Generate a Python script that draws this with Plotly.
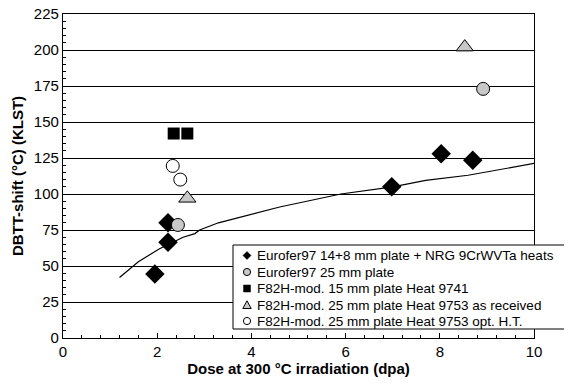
import plotly.graph_objects as go

# Data
euro_x = [1.95, 2.23, 2.23, 6.98, 8.03, 8.7]
euro_y = [44.5, 66.5, 80, 105, 128, 123.5]

euro25_x = [2.44, 8.92]
euro25_y = [78.5, 173]

f82_15_x = [2.35, 2.64]
f82_15_y = [142, 142]

f82_ar_x = [2.64, 8.53]
f82_ar_y = [97, 202]

f82_ht_x = [2.33, 2.49]
f82_ht_y = [119.5, 110]

fit_x = [1.2, 1.6, 2.05, 2.55, 2.8, 2.9, 3.3, 4.1, 4.6, 5.9, 7.0, 7.7, 8.6, 10.05]
fit_y = [42, 53, 62, 70, 72.5, 75, 80, 87, 91, 100, 105, 109.5, 113, 121.5]

legend_labels = [
    "Eurofer97 14+8 mm plate + NRG 9CrWVTa heats",
    "Eurofer97 25 mm plate",
    "F82H-mod. 15 mm plate Heat 9741",
    "F82H-mod. 25 mm plate Heat 9753 as received",
    "F82H-mod. 25 mm plate Heat 9753 opt. H.T.",
]

FONT = "Arial, Liberation Sans, sans-serif"
GREY = "#c8c8c8"

OFF = 8  # page body margin offset
W, H = 572 - OFF, 384 - OFF
ML, MT = 63 - OFF, 14 - OFF
MR = W - (534 - OFF)
MB = H - (338 - OFF)
PW, PH = W - ML - MR, H - MT - MB


def px(x):
    return (x - OFF - ML) / PW


def py(y):
    return (H - MB - (y - OFF)) / PH


fig = go.Figure()
fig.add_trace(go.Scatter(x=fit_x, y=fit_y, mode="lines", line=dict(color="black", width=1.2),
                         showlegend=False, cliponaxis=False))
fig.add_trace(go.Scatter(x=euro_x, y=euro_y, mode="markers", name=legend_labels[0],
                         marker=dict(symbol="diamond", size=15, color="black")))
fig.add_trace(go.Scatter(x=euro25_x, y=euro25_y, mode="markers", name=legend_labels[1],
                         marker=dict(symbol="circle", size=13, color=GREY,
                                     line=dict(color="black", width=1))))
fig.add_trace(go.Scatter(x=f82_15_x, y=f82_15_y, mode="markers", name=legend_labels[2],
                         marker=dict(symbol="square", size=12, color="black")))
fig.add_trace(go.Scatter(x=f82_ar_x, y=f82_ar_y, mode="markers", name=legend_labels[3],
                         marker=dict(symbol="triangle-up", size=15, color=GREY,
                                     line=dict(color="black", width=1))))
fig.add_trace(go.Scatter(x=f82_ht_x, y=f82_ht_y, mode="markers", name=legend_labels[4],
                         marker=dict(symbol="circle", size=13, color="white",
                                     line=dict(color="black", width=1))))

# Manual legend (box, symbols, labels) in pixel-derived paper coordinates
shapes = [dict(type="rect", xref="paper", yref="paper", layer="above",
               x0=px(233), x1=px(567), y0=py(329), y1=py(245),
               fillcolor="white", line=dict(color="black", width=1))]
mx = 247
rows = [255.5, 272, 288.5, 305, 321]
r = 3.6
cy = rows[0]
shapes.append(dict(type="path", xref="paper", yref="paper", layer="above",
                   path=f"M {px(mx)},{py(cy - 4)} L {px(mx + 4)},{py(cy)} L {px(mx)},{py(cy + 4)} L {px(mx - 4)},{py(cy)} Z",
                   fillcolor="black", line=dict(color="black", width=0.5)))
cy = rows[1]
shapes.append(dict(type="circle", xref="paper", yref="paper", layer="above",
                   x0=px(mx - r), x1=px(mx + r), y0=py(cy + r), y1=py(cy - r),
                   fillcolor=GREY, line=dict(color="black", width=1)))
cy = rows[2]
shapes.append(dict(type="rect", xref="paper", yref="paper", layer="above",
                   x0=px(mx - 3.5), x1=px(mx + 3.5), y0=py(cy + 3.5), y1=py(cy - 3.5),
                   fillcolor="black", line=dict(color="black", width=0.5)))
cy = rows[3]
shapes.append(dict(type="path", xref="paper", yref="paper", layer="above",
                   path=f"M {px(mx)},{py(cy - 4.2)} L {px(mx + 4.2)},{py(cy + 3.5)} L {px(mx - 4.2)},{py(cy + 3.5)} Z",
                   fillcolor=GREY, line=dict(color="black", width=1)))
cy = rows[4]
shapes.append(dict(type="circle", xref="paper", yref="paper", layer="above",
                   x0=px(mx - r), x1=px(mx + r), y0=py(cy + r), y1=py(cy - r),
                   fillcolor="white", line=dict(color="black", width=1)))

annotations = []
for lab, cy in zip(legend_labels, rows):
    annotations.append(dict(xref="paper", yref="paper", x=px(255), y=py(cy),
                            xanchor="left", yanchor="middle", text=lab, showarrow=False,
                            font=dict(family=FONT, size=13.5, color="black")))

fig.update_layout(
    width=W, height=H,
    margin=dict(l=ML, r=MR, t=MT, b=MB),
    paper_bgcolor="white", plot_bgcolor="white",
    font=dict(family=FONT, size=15, color="black"),
    showlegend=False,
    shapes=shapes,
    annotations=annotations,
    xaxis=dict(range=[0, 10], dtick=2, showline=True, linecolor="black", linewidth=1.2,
               mirror=True, showgrid=False, zeroline=False, automargin=False,
               ticklabeloverflow="allow",
               ticks="inside", ticklen=5, tickcolor="black",
               minor=dict(dtick=0.4, ticks="inside", ticklen=3, tickcolor="black"),
               title=dict(text="<b>Dose at 300 °C irradiation (dpa)</b>", standoff=2,
                          font=dict(size=15))),
    yaxis=dict(range=[0, 225], dtick=25, showline=True, linecolor="black", linewidth=1.2,
               mirror=True, showgrid=True, gridcolor="black", gridwidth=1, zeroline=False,
               automargin=False, ticklabeloverflow="allow",
               ticks="inside", ticklen=5, tickcolor="black",
               minor=dict(dtick=5, ticks="inside", ticklen=3, tickcolor="black", showgrid=False),
               title=dict(text="<b>DBTT-shift (°C) (KLST)</b>", standoff=6,
                          font=dict(size=15))),
)

fig.write_html("out.html")
